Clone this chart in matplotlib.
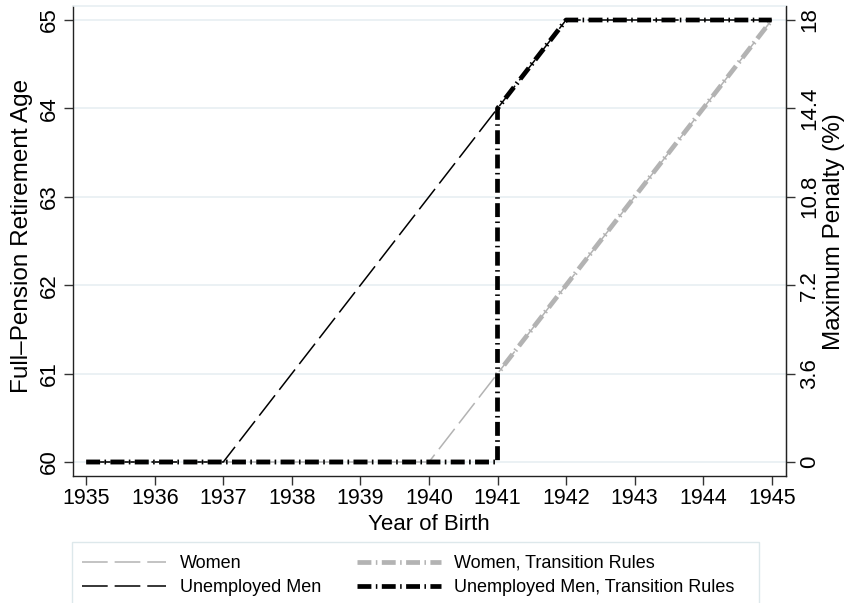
import matplotlib
matplotlib.use("Agg")
import matplotlib.pyplot as plt
from matplotlib.patches import Rectangle

plt.rcParams['font.family'] = ['Liberation Sans', 'DejaVu Sans']
plt.rcParams['lines.scale_dashes'] = False

# ---- data ----
years = [1935, 1936, 1937, 1938, 1939, 1940, 1941, 1942, 1943, 1944, 1945]
women = [60, 60, 60, 60, 60, 60, 61, 62, 63, 64, 65]
unemployed_men = [60, 60, 60, 61, 62, 63, 64, 65, 65, 65, 65]
tr_years = [1935, 1936, 1937, 1938, 1939, 1940, 1941, 1941, 1942, 1943, 1944, 1945]
women_tr = [60, 60, 60, 60, 60, 60, 60, 61, 62, 63, 64, 65]
unemployed_men_tr = [60, 60, 60, 60, 60, 60, 60, 64, 65, 65, 65, 65]

left_ticks = [60, 61, 62, 63, 64, 65]
right_ticks = [0, 3.6, 7.2, 10.8, 14.4, 18]
right_labels = ["0", "3.6", "7.2", "10.8", "14.4", "18"]

labels = ["Women", "Unemployed Men", "Women, Transition Rules",
          "Unemployed Men, Transition Rules"]

# ---- figure ----
W, H = 845, 603
fig = plt.figure(figsize=(W / 100, H / 100), dpi=100)
ax_l, ax_r, ax_b, ax_t = 72.7, 785.7, 476, 5.7
ax = fig.add_axes([ax_l / W, 1 - ax_b / H, (ax_r - ax_l) / W, (ax_b - ax_t) / H])

grid_c = '#e6eef1'
gray = '#b3b3b3'
for y in left_ticks:
    ax.axhline(y, color=grid_c, lw=1.1, zorder=0)

l1, = ax.plot(years, women, color=gray, lw=1.1, dashes=(18.5, 5),
              dash_capstyle='butt', zorder=2)
l2, = ax.plot(years, unemployed_men, color='black', lw=1.1, dashes=(18.5, 5),
              dash_capstyle='butt', zorder=3)
l3, = ax.plot(tr_years, women_tr, color=gray, lw=3.4, dashes=(10, 3.2, 1.1, 3.2),
              dash_capstyle='butt', zorder=4)
l4, = ax.plot(tr_years, unemployed_men_tr, color='black', lw=3.4, dashes=(10, 3.2, 1.1, 3.2),
              dash_capstyle='butt', zorder=5)

ax.set_xlim(1935 - 13.5 / 68.6, 1945 + 14 / 68.6)
ylo, yhi = 60 - 14 / 88.4, 65 + 14.3 / 88.4
ax.set_ylim(ylo, yhi)
ax.set_xticks(years)
ax.set_xticklabels([str(y) for y in years])
ax.set_yticks(left_ticks)
ax.set_yticklabels([str(y) for y in left_ticks], rotation=90, va='center')

ax.tick_params(axis='x', length=6.5, width=1, color='#333333', labelsize=15.5, pad=2.5)
ax.tick_params(axis='y', length=6.5, width=1, color='#333333', labelsize=16, pad=3)
ax.spines['top'].set_color(grid_c)
ax.spines['top'].set_linewidth(1.1)
for s in ['left', 'bottom', 'right']:
    ax.spines[s].set_color('#222222')
    ax.spines[s].set_linewidth(1.0)

ax.set_xlabel("Year of Birth", fontsize=16, labelpad=3.5)
ax.set_ylabel("Full–Pension Retirement Age", fontsize=17.5, labelpad=4)
ax.yaxis.label.set_y(0.51)

ax2 = ax.twinx()
ax2.set_ylim((ylo - 60) * 3.6, (yhi - 60) * 3.6)
ax2.set_yticks(right_ticks)
ax2.set_yticklabels(right_labels, rotation=90, va='center')
ax2.tick_params(axis='y', length=6.5, width=1, color='#333333', labelsize=16, pad=3)
for s in ['left', 'bottom', 'top']:
    ax2.spines[s].set_visible(False)
ax2.spines['right'].set_color('#222222')
ax2.set_ylabel("Maximum Penalty (%)", fontsize=17.5, labelpad=2)
ax2.yaxis.label.set_y(0.52)

# legend
fig.add_artist(Rectangle((72.5 / W, -0.05), (759 - 72.5) / W, (1 - 542 / H) + 0.05,
                         transform=fig.transFigure, facecolor='none',
                         edgecolor='#dde8eb', lw=1.0))
leg = fig.legend([l1, l2, l3, l4], labels, ncol=2, frameon=False,
                 loc='upper left', bbox_to_anchor=(82 / W, 1 - 555 / H),
                 borderpad=0, borderaxespad=0, fontsize=13,
                 handlelength=4.65, handletextpad=0.75, columnspacing=2.0,
                 labelspacing=0.4)

fig.savefig("out.png", dpi=100)
